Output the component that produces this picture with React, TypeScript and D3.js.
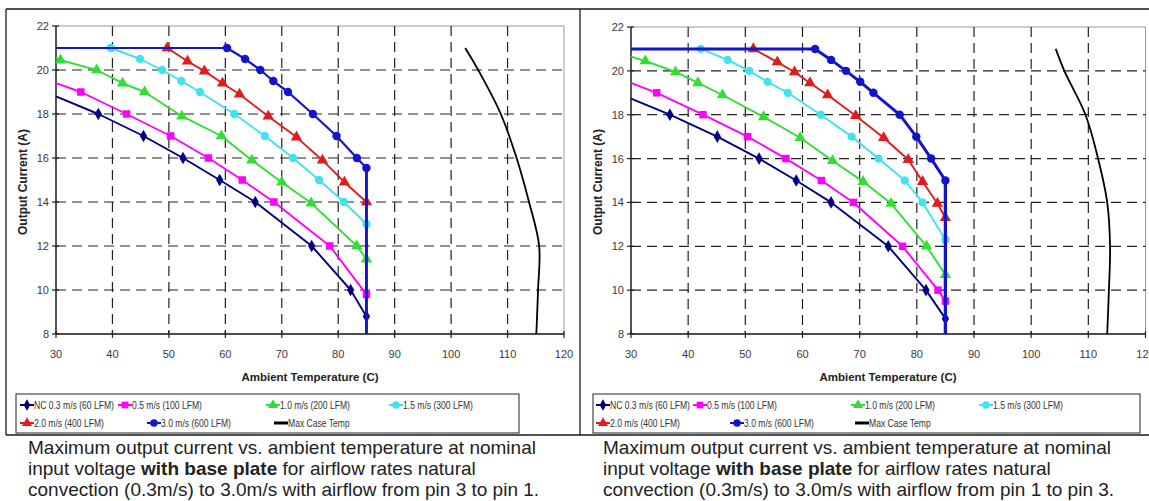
import React from 'react';
import * as d3 from 'd3';

type Pt = [number, number];

const xTicks = [30, 40, 50, 60, 70, 80, 90, 100, 110, 120];
const yTicks = [8, 10, 12, 14, 16, 18, 20, 22];

const seriesNames = [
  'NC 0.3 m/s (60 LFM)',
  '0.5 m/s (100 LFM)',
  '1.0 m/s (200 LFM)',
  '1.5 m/s (300 LFM)',
  '2.0 m/s (400 LFM)',
  '3.0 m/s (600 LFM)',
  'Max Case Temp',
];

// airflow from pin 3 to pin 1 (left chart)
const p31NC: Pt[] = [[30, 18.8], [37.5, 18], [45.5, 17], [52.5, 16], [59, 15], [65.3, 14], [75.3, 12], [82.2, 10], [85, 8.8]];
const p31V05: Pt[] = [[30, 19.4], [34.4, 19], [42.5, 18], [50.3, 17], [57, 16], [63, 15], [68.6, 14], [78.5, 12], [85, 9.8]];
const p31V10: Pt[] = [[30, 20.56], [30.8, 20.45], [37.2, 20], [41.8, 19.4], [45.7, 19], [52.3, 17.9], [59.3, 17], [64.7, 15.9], [70, 14.9], [75.2, 13.95], [83.3, 12], [85, 11.4]];
const p31V15: Pt[] = [[39.7, 21], [44.9, 20.5], [48.8, 20], [52.2, 19.5], [55.5, 19], [61.6, 18], [67, 17], [72, 16], [76.6, 15], [81, 14], [85, 13]];
const p31V20: Pt[] = [[49.7, 21], [53.3, 20.4], [56.3, 19.95], [59.5, 19.4], [62.5, 18.9], [67.6, 17.9], [72.6, 16.95], [77.2, 15.9], [81.1, 14.9], [85, 14]];
const p31V30: Pt[] = [[30, 21], [60.3, 21], [63.5, 20.5], [66.2, 20], [68.5, 19.5], [71.1, 19], [75.5, 18], [79.7, 17], [83.3, 16], [85, 15.55], [85, 8]];
const p31Max: Pt[] = [[102.5, 21], [104.8, 20], [108.8, 18], [111.6, 16], [113.8, 14], [115.6, 12], [115.4, 10], [115.1, 8]];

// airflow from pin 1 to pin 3 (right chart)
const p13NC: Pt[] = [[30, 18.73], [36.8, 18], [45.1, 17], [52.4, 16], [58.9, 15], [65, 14], [75, 12], [81.6, 10], [85, 8.7]];
const p13V05: Pt[] = [[30, 19.45], [34.5, 19], [42.6, 18], [50.4, 17], [57.1, 16], [63.3, 15], [68.9, 14], [77.5, 12], [83.7, 10], [85, 9.5]];
const p13V10: Pt[] = [[30, 20.65], [32.5, 20.45], [37.8, 19.95], [41.7, 19.45], [46, 18.9], [53.2, 17.9], [59.6, 16.95], [65.25, 15.9], [70.6, 14.95], [75.5, 13.95], [81.7, 12], [85, 10.7]];
const p13V15: Pt[] = [[42.2, 21], [46.9, 20.5], [50.7, 20], [53.9, 19.5], [57.4, 19], [63.2, 18], [68.6, 17], [73.3, 16], [77.9, 15], [81, 14], [85, 12.3]];
const p13V20: Pt[] = [[51.4, 21], [55.6, 20.4], [58.6, 19.95], [61.3, 19.45], [64.4, 18.9], [69.3, 17.95], [74.2, 16.95], [78.5, 15.95], [81, 14.95], [83.6, 13.95], [85, 13.3]];
const p13V30: Pt[] = [[30, 21], [62.2, 21], [65, 20.5], [67.6, 20], [70.1, 19.5], [72.4, 19], [77, 18], [79.9, 17], [82.5, 16], [85, 15], [85, 8]];
const p13Max: Pt[] = [[104.3, 21], [105.8, 20], [109.5, 18], [111.7, 16], [113.3, 14], [113.8, 12], [113.6, 10], [113.3, 8]];

const caption31 = [
  'Maximum output current vs. ambient temperature at nominal',
  ['input voltage ', 'with base plate', ' for airflow rates natural'],
  'convection (0.3m/s) to 3.0m/s with airflow from pin 3 to pin 1.',
];
const caption13 = [
  'Maximum output current vs. ambient temperature at nominal',
  ['input voltage ', 'with base plate', ' for airflow rates natural'],
  'convection (0.3m/s) to 3.0m/s with airflow from pin 1 to pin 3.',
];

const seriesStyle = [
  { color: '#000080', symbol: d3.symbolDiamond, size: 46, width: 1.9 },
  { color: '#ff00ff', symbol: d3.symbolSquare, size: 56, width: 1.9 },
  { color: '#33dd33', symbol: d3.symbolTriangle, size: 56, width: 1.9 },
  { color: '#40e2ee', symbol: d3.symbolCircle, size: 54, width: 1.9 },
  { color: '#e01c1c', symbol: d3.symbolTriangle, size: 56, width: 1.9 },
  { color: '#1414cc', symbol: d3.symbolCircle, size: 56, width: 2.2 },
  { color: '#000000', symbol: null, size: 0, width: 1.8 },
];

const FONT = '"Liberation Sans", Arial, sans-serif';

const panels = [
  {
    x0: 56, x1: 564, yTop: 26, yBot: 334,
    frameL: 6, frameR: 580,
    yTitleX: 27, xTitleX: 310, yLabelX: 49,
    blueWidth: 2.2, blueDrop: 2.8,
    legendBox: [16, 394, 503, 39],
    legendSlots: [[20, 405], [118, 405], [266, 405], [389, 405], [20, 423], [147, 423], [274, 423]],
    captionX: 28,
    data: [p31NC, p31V05, p31V10, p31V15, p31V20, p31V30, p31Max],
    caption: caption31,
  },
  {
    x0: 631, x1: 1145.5, yTop: 27, yBot: 334,
    frameL: 580, frameR: 1160,
    yTitleX: 602, xTitleX: 888, yLabelX: 624,
    blueWidth: 3, blueDrop: 3.2,
    legendBox: [593, 394, 547, 39],
    legendSlots: [[596, 405], [693, 405], [851, 405], [979, 405], [596, 423], [730, 423], [855, 423]],
    captionX: 603,
    data: [p13NC, p13V05, p13V10, p13V15, p13V20, p13V30, p13Max],
    caption: caption13,
  },
];

function Panel({ cfg }: { cfg: any }) {
  const x = d3.scaleLinear().domain([30, 120]).range([cfg.x0, cfg.x1]);
  const y = d3.scaleLinear().domain([8, 22]).range([cfg.yBot, cfg.yTop]);
  const line = d3.line<Pt>().x(d => x(d[0])).y(d => y(d[1]));
  const curve = d3.line<Pt>().x(d => x(d[0])).y(d => y(d[1])).curve(d3.curveCatmullRom);
  const dash = '10,6';
  const [lx, ly, lw, lh] = cfg.legendBox;

  return (
    <g fontFamily={FONT}>
      {/* frame */}
      <line x1={cfg.frameL} x2={cfg.frameL} y1={9} y2={435} stroke="#1a1a1a" strokeWidth={1.3} />
      <line x1={cfg.frameL} x2={cfg.frameR} y1={9} y2={9} stroke="#1a1a1a" strokeWidth={1.3} />
      <line x1={cfg.frameL} x2={cfg.frameR} y1={435} y2={435} stroke="#1a1a1a" strokeWidth={1.3} />

      {/* plot area border */}
      <rect x={cfg.x0} y={cfg.yTop} width={cfg.x1 - cfg.x0} height={cfg.yBot - cfg.yTop} fill="#fff" stroke="#9a9a9a" strokeWidth={1} />

      {/* grid */}
      {xTicks.slice(1, -1).map(t => (
        <line key={'gx' + t} x1={x(t)} x2={x(t)} y1={cfg.yTop} y2={cfg.yBot} stroke="#222" strokeWidth={1.2} strokeDasharray={dash} />
      ))}
      {yTicks.slice(1, -1).map(t => (
        <line key={'gy' + t} x1={cfg.x0} x2={cfg.x1} y1={y(t)} y2={y(t)} stroke="#222" strokeWidth={1.2} strokeDasharray={dash} />
      ))}

      {/* axes */}
      <line x1={cfg.x0} x2={cfg.x0} y1={cfg.yTop} y2={cfg.yBot} stroke="#222" strokeWidth={1.4} />
      <line x1={cfg.x0} x2={cfg.x1} y1={cfg.yBot} y2={cfg.yBot} stroke="#222" strokeWidth={1.4} />
      {yTicks.map(t => (
        <g key={'yt' + t}>
          <line x1={cfg.x0 - 4} x2={cfg.x0 + 3} y1={y(t)} y2={y(t)} stroke="#222" strokeWidth={1.2} />
          <text x={cfg.yLabelX} y={y(t) + 4} textAnchor="end" fontSize={11} fill="#3a3a3a">{t}</text>
        </g>
      ))}
      {xTicks.map(t => (
        <g key={'xt' + t}>
          <line x1={x(t)} x2={x(t)} y1={cfg.yBot - 3} y2={cfg.yBot + 4} stroke="#222" strokeWidth={1.2} />
          <text x={x(t)} y={358} textAnchor="middle" fontSize={11} fill="#3a3a3a">{t}</text>
        </g>
      ))}

      {/* axis titles */}
      <text x={cfg.xTitleX} y={381} textAnchor="middle" fontSize={11.5} fontWeight="bold" fill="#222">Ambient Temperature (C)</text>
      <text transform={`translate(${cfg.yTitleX},182) rotate(-90)`} textAnchor="middle" fontSize={12} fontWeight="bold" fill="#222">Output Current (A)</text>

      {/* series */}
      {cfg.data.map((pts: Pt[], i: number) => {
        const st = seriesStyle[i];
        const isMax = i === seriesStyle.length - 1;
        const isBlue = i === 5;
        return (
          <g key={'s' + i}>
            <path d={(isMax ? curve : line)(pts) || ''} fill="none" stroke={st.color} strokeWidth={isBlue ? cfg.blueWidth : st.width} strokeLinejoin="round" />
            {isBlue && (
              <path d={line(pts.slice(-2)) || ''} fill="none" stroke={st.color} strokeWidth={cfg.blueDrop} />
            )}
            {st.symbol && pts.filter(p => p[0] > 30 && p[1] > 8).map((p, j) => (
              <path key={j} transform={`translate(${x(p[0])},${y(p[1])})`} d={d3.symbol(st.symbol!, st.size)() || ''} fill={st.color} />
            ))}
          </g>
        );
      })}

      {/* legend */}
      <rect x={lx} y={ly} width={lw} height={lh} fill="#fff" stroke="#222" strokeWidth={1} />
      {seriesNames.map((name, i) => {
        const st = seriesStyle[i];
        const [sx, sy] = cfg.legendSlots[i];
        return (
          <g key={'lg' + i}>
            <line x1={sx} x2={sx + 14} y1={sy} y2={sy} stroke={st.color} strokeWidth={st.symbol ? 2 : 3} />
            {st.symbol && (
              <path transform={`translate(${sx + 7},${sy})`} d={d3.symbol(st.symbol, st.size * 0.8)() || ''} fill={st.color} />
            )}
            <text transform={`translate(${sx + 14},${sy + 3.6}) scale(0.84,1)`} fontSize={10.2} fill="#333">{name}</text>
          </g>
        );
      })}

      {/* caption */}
      <g fontSize={19} fill="#222">
        <text x={cfg.captionX} y={454}>{cfg.caption[0]}</text>
        <text x={cfg.captionX} y={475}>
          {cfg.caption[1][0]}
          <tspan fontWeight="bold">{cfg.caption[1][1]}</tspan>
          {cfg.caption[1][2]}
        </text>
        <text x={cfg.captionX} y={496}>{cfg.caption[2]}</text>
      </g>
    </g>
  );
}

export default function App() {
  return (
    <div style={{ position: 'absolute', left: 0, top: 0, width: 1149, height: 501, background: '#fff' }}>
      <svg width={1149} height={501} style={{ display: 'block' }}>
        <rect width={1149} height={501} fill="#fff" />
        {panels.map((p, i) => <Panel key={i} cfg={p} />)}
      </svg>
    </div>
  );
}
